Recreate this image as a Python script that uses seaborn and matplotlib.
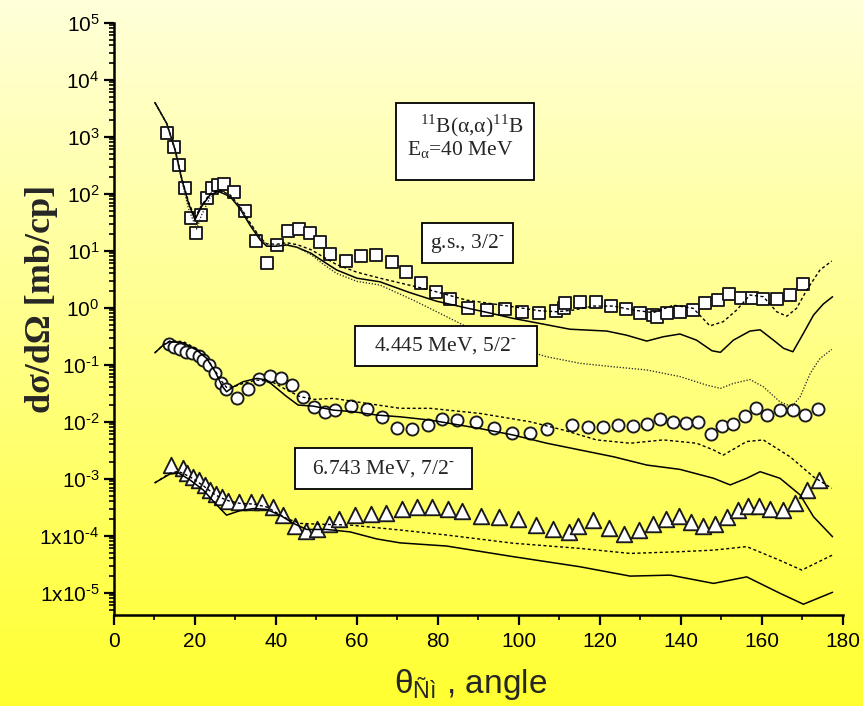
import numpy as np
import pandas as pd
import matplotlib
matplotlib.use("Agg")
import matplotlib.pyplot as plt
import seaborn as sns
from matplotlib.ticker import FixedLocator, FuncFormatter, MultipleLocator, NullFormatter
from matplotlib.patches import Rectangle

sns.set_theme(style="ticks")
plt.rcParams['font.family'] = ['Liberation Sans', 'DejaVu Sans']
plt.rcParams['mathtext.fontset'] = 'custom'
plt.rcParams['mathtext.rm'] = 'Liberation Sans'
plt.rcParams['mathtext.it'] = 'Liberation Sans:italic'
plt.rcParams['mathtext.bf'] = 'Liberation Sans:bold'

# ---------------- measured cross sections ----------------
gs_angle = [13.1, 14.9, 16.1, 17.6, 18.9, 20.3, 21.6, 23.0, 24.3, 25.6, 27.1, 29.7,
            32.4, 35.1, 37.7, 40.3, 43.1, 45.6, 48.3, 50.8, 53.4, 57.3, 61.0, 64.7,
            68.6, 72.1, 75.9, 79.5, 83.0, 87.5, 92.1, 96.6, 100.9, 105.1, 109.2,
            111.2, 111.3, 115.1, 119.0, 122.7, 126.4, 129.9, 133.2, 134.1, 136.5,
            139.8, 142.9, 146.1, 149.1, 152.0, 154.8, 157.7, 160.4, 163.7, 167.0, 170.3]
gs_xs = [1160, 670, 315, 127, 37, 20.5, 43, 83, 126, 142, 146, 106,
         50, 14.8, 6.0, 12.7, 21.9, 24.3, 20.2, 14.0, 8.9, 6.7, 8.1, 8.3,
         6.4, 4.2, 2.75, 1.91, 1.40, 0.975, 0.91, 0.94, 0.83, 0.80, 0.875,
         0.975, 1.19, 1.27, 1.27, 1.07, 0.94, 0.82, 0.745, 0.68, 0.80,
         0.85, 0.91, 1.19, 1.36, 1.74, 1.46, 1.51, 1.41, 1.41, 1.66, 2.6]

ex1_angle = [13.7, 14.8, 16.3, 17.8, 19.3, 20.9, 22.1, 23.5, 25.0, 26.4, 27.7, 30.3,
             33.2, 35.9, 38.5, 41.3, 43.9, 46.6, 49.4, 52.0, 54.6, 58.5, 62.4, 66.3,
             69.8, 73.7, 77.5, 81.0, 84.7, 89.4, 93.9, 98.4, 102.8, 107.0, 113.1,
             117.0, 120.9, 124.6, 128.1, 131.6, 134.9, 138.2, 141.3, 144.3, 147.4,
             150.1, 153.0, 155.9, 158.6, 161.2, 164.5, 167.7, 170.7, 173.8]
ex1_xs = [0.228, 0.207, 0.188, 0.169, 0.158, 0.142, 0.121, 0.099, 0.072, 0.048, 0.037, 0.0257,
          0.037, 0.056, 0.063, 0.058, 0.044, 0.0275, 0.0179, 0.015, 0.016, 0.0188, 0.017, 0.0123,
          0.00786, 0.00736, 0.00875, 0.011, 0.0107, 0.010, 0.00785, 0.0064, 0.00626, 0.00736, 0.00875,
          0.0080, 0.0080, 0.00875, 0.0084, 0.0090, 0.011, 0.010, 0.0096, 0.0098, 0.0061,
          0.0084, 0.0090, 0.0126, 0.0172, 0.0131, 0.016, 0.016, 0.0131, 0.0165]

ex2_angle = [14.0, 17.0, 18.1, 19.6, 21.0, 22.5, 23.7, 25.1, 26.6, 28.2, 30.9, 33.8,
             36.5, 39.2, 41.8, 44.6, 47.4, 50.2, 53.0, 55.7, 59.5, 63.4, 67.2, 71.1,
             74.9, 78.6, 82.5, 86.0, 90.7, 95.2, 99.7, 104.2, 108.5, 112.5, 114.7,
             118.4, 122.3, 126.1, 129.7, 133.1, 136.3, 139.6, 142.5, 145.6, 148.5,
             151.5, 154.2, 156.7, 159.4, 162.0, 165.2, 168.2, 171.3, 174.2]
ex2_xs = [0.00174, 0.00156, 0.00124, 0.00108, 0.00095, 0.00078, 0.00063, 0.00055, 0.00048,
          0.00041, 0.00039, 0.00039, 0.00039, 0.00032, 0.000231, 0.000148, 0.000122, 0.000130,
          0.000164, 0.000194, 0.000231, 0.00024, 0.000247, 0.00029, 0.000315, 0.00032, 0.0003,
          0.00027, 0.000222, 0.000215, 0.000196, 0.000154, 0.00013, 0.000117, 0.000148,
          0.000188, 0.000138, 0.000106, 0.000126, 0.00016, 0.000194, 0.000222, 0.000172,
          0.000148, 0.00016, 0.000215, 0.00028, 0.00033, 0.00033, 0.0003, 0.00028, 0.00038,
          0.00063, 0.00095]

# ---------------- calculated curves ----------------
gs_solid_angle = [10.1, 13.0, 15.1, 16.7, 18.4, 20.0, 21.6, 23.7, 25.8, 28.7, 31.1, 33.6,
                  36.1, 37.7, 40.2, 42.7, 45.2, 48.7, 51.7, 55.0, 60.0, 65.7, 73.0, 79.7,
                  87.5, 92.1, 98.6, 105.2, 112.6, 121.7, 126.6, 131.6, 135.7, 139.8, 143.9,
                  147.7, 149.8, 153.0, 157.1, 159.6, 162.9, 165.4, 167.7, 170.3, 172.8,
                  175.2, 177.5]
gs_solid = [3980, 1720, 590, 186, 68, 35, 59, 95, 110, 89, 55, 28,
            15.5, 12.0, 12.0, 12.6, 11.5, 9.0, 6.5, 4.6, 3.3, 2.85, 1.85, 1.30,
            0.975, 0.83, 0.65, 0.53, 0.42, 0.39, 0.33, 0.26, 0.31, 0.346, 0.27,
            0.176, 0.165, 0.27, 0.39, 0.41, 0.27, 0.194, 0.169, 0.356, 0.745,
            1.16, 1.56]

gs_dash_angle = [10.1, 13.0, 15.1, 16.7, 18.4, 20.0, 21.6, 23.7, 25.8, 28.7, 31.1, 33.6,
                 36.1, 37.7, 40.2, 42.7, 45.2, 48.7, 51.7, 55.0, 60.0, 65.7, 78.1, 87.1,
                 98.6, 105.2, 109.4, 113.5, 118.4, 123.4, 128.3, 133.2, 138.2, 143.1,
                 147.2, 150.5, 153.8, 157.1, 160.4, 163.7, 166.2, 168.6, 171.1, 174.4, 177.3]
gs_dash = [3980, 1720, 590, 190, 72, 38, 62, 100, 118, 95, 60, 31,
           17, 13.2, 13, 13.8, 12.8, 10.4, 7.8, 5.7, 4.2, 3.3, 2.04, 1.36,
           1.04, 0.885, 0.85, 0.91, 1.07, 1.07, 0.91, 0.82, 1.11, 0.975,
           0.48, 0.57, 0.91, 1.67, 1.56, 0.85, 0.71, 0.975, 2.04, 4.6, 6.6]

gs_dot_angle = [10.1, 13.0, 15.1, 16.7, 18.4, 20.4, 21.6, 23.7, 25.8, 28.7, 31.1, 33.6,
                36.1, 37.7, 40.2, 42.7, 45.2, 48.7, 51.7, 55.0, 60.0, 65.7, 73.9, 82.2,
                90.4, 98.6, 106.9, 115.1, 123.4, 131.6, 139.8, 146.4, 149.8, 153.0,
                157.1, 160.4, 164.5, 167.4, 169.5, 172.0, 174.4, 177.3]
gs_dot = [3980, 1700, 560, 170, 55, 24, 42, 85, 108, 92, 58, 30,
          16.5, 12.8, 12.5, 13, 11.5, 8.5, 5.8, 4.0, 2.9, 2.5, 1.36, 0.695,
          0.355, 0.207, 0.138, 0.106, 0.092, 0.081, 0.062, 0.044, 0.0385, 0.047,
          0.055, 0.041, 0.0224, 0.0183, 0.0275, 0.071, 0.129, 0.186]

ex1_solid_angle = [10.1, 12.2, 13.8, 17.1, 20.4, 22.9, 25.0, 26.7, 27.8, 29.5, 31.9, 35.3,
                   37.7, 40.2, 42.7, 45.5, 49.2, 54.2, 59.1, 64.9, 70.7, 78.1, 90.4, 98.6,
                   106.9, 115.1, 123.4, 131.6, 139.8, 148.1, 152.2, 156.3, 159.6, 164.5,
                   169.5, 172.8, 177.5]
ex1_solid = [0.162, 0.222, 0.254, 0.243, 0.181, 0.129, 0.0753, 0.0423, 0.0336, 0.0411, 0.0504,
             0.0577, 0.054, 0.0385, 0.0275, 0.0196, 0.0188, 0.016, 0.015, 0.0131, 0.0122,
             0.0107, 0.0076, 0.00585, 0.0042, 0.0032, 0.00243, 0.00174, 0.00146, 0.00102,
             0.00078, 0.00102, 0.00133, 0.00102, 0.00052, 0.000215, 0.000096]

ex1_dot_angle = [10.1, 12.2, 13.8, 17.1, 20.4, 22.9, 25.0, 26.7, 27.8, 29.5, 31.9, 35.3,
                 39.0, 42.7, 46.0, 49.5, 54.2, 62.4, 70.7, 78.1, 90.4, 102.8, 111.0, 119.2,
                 127.5, 135.7, 143.9, 148.1, 150.5, 156.3, 160.4, 167.0, 172.8, 177.3]
ex1_dot = [0.162, 0.225, 0.262, 0.255, 0.19, 0.13, 0.078, 0.05, 0.04, 0.041, 0.047, 0.054,
           0.0503, 0.036, 0.0275, 0.0247, 0.0257, 0.021, 0.0172, 0.0172, 0.014, 0.010,
           0.00715, 0.0048, 0.0042, 0.0048, 0.0042, 0.0032, 0.0026, 0.0045, 0.0048,
           0.00243, 0.00108, 0.00068]

ex2_solid_angle = [10.1, 13.8, 15.9, 18.8, 22.1, 25.0, 27.8, 31.1, 34.4, 37.7, 41.0, 44.3,
                   47.6, 52.5, 58.3, 64.9, 70.7, 82.2, 98.6, 115.1, 127.5, 137.4, 148.1,
                   156.3, 164.5, 170.3, 177.5]
ex2_solid = [0.00085, 0.00121, 0.00127, 0.00095, 0.00063, 0.00037, 0.00023, 0.000275, 0.0003,
             0.00029, 0.00023, 0.000165, 0.000129, 0.000129, 0.000117, 0.000088, 0.000075,
             0.000066, 0.000043, 0.0000286, 0.0000196, 0.0000204, 0.0000146, 0.000019,
             0.0000098, 0.0000063, 0.0000102]

ex2_dot_angle = [10.1, 13.8, 15.9, 18.8, 22.1, 25.0, 27.8, 31.1, 34.4, 37.7, 42.7, 46.0,
                 50.0, 58.3, 70.7, 82.2, 98.6, 115.1, 127.5, 139.8, 148.1, 156.3, 164.5,
                 169.9, 177.5]
ex2_dot = [0.00085, 0.00125, 0.00135, 0.00108, 0.00075, 0.00052, 0.00042, 0.00037, 0.00036,
           0.00032, 0.0002, 0.000165, 0.00016, 0.000154, 0.000126, 0.000103, 0.000074,
           0.00006, 0.000049, 0.0000525, 0.000056, 0.0000645, 0.000037, 0.000025, 0.000046]

# decades that carry a tick label
y_decades = list(range(-5, 6))

HY = "\u2010"  # short hyphen used as the superscript sign
state_labels = ["g.s., 3/2$^{\\mathregular{" + HY + "}}$",
                "4.445 MeV, 5/2$^{\\mathregular{" + HY + "}}$",
                "6.743 MeV, 7/2$^{\\mathregular{" + HY + "}}$"]
reaction_label = "$^{\\mathregular{11}}$B(\u03b1,\u03b1)$^{\\mathregular{11}}$B"
energy_label = "E$_{\\mathregular{\u03b1}}$=40 MeV"

# ---------------- figure ----------------
W, H = 863, 706
fig = plt.figure(figsize=(W / 100, H / 100), dpi=100)

# pale-to-yellow vertical background painted straight onto the canvas
t = np.linspace(0, 1, H)[:, None, None]
top = np.array([255, 255, 218]) / 255
bot = np.array([255, 255, 48]) / 255
grad = top * (1 - t) + bot * t
grad = np.broadcast_to(grad, (H, W, 3)).copy()
fig.figimage(grad, 0, 0, zorder=-10, origin='upper')

x0, x1 = 114, 842.7
y_top, y_bot = 22.7, 615
ax = fig.add_axes([x0 / W, 1 - y_bot / H, (x1 - x0) / W, (y_bot - y_top) / H])
ax.set_facecolor('none')
ax.set_yscale('log')

# experimental points (drawn below the curves)
mk = dict(color='white', edgecolor='#1a1a1a', linewidth=1.35, zorder=3, legend=False, ax=ax)
sns.scatterplot(x=gs_angle, y=gs_xs, marker='s', s=66, **mk)
sns.scatterplot(x=ex1_angle, y=ex1_xs, marker='o', s=76, **mk)
sns.scatterplot(x=ex2_angle, y=ex2_xs, marker='^', s=125, **mk)

solid = dict(color='black', linewidth=1.1, zorder=4, ax=ax)
dash = dict(color='black', linewidth=1.0, linestyle=(0, (2.2, 1.8)), zorder=4, ax=ax)
fine = dict(color='#2a2a2a', linewidth=0.95, linestyle=(0, (1, 1.3)), zorder=4, ax=ax)

sns.lineplot(x=gs_solid_angle, y=gs_solid, **solid)
sns.lineplot(x=gs_dash_angle, y=gs_dash, **dash)
sns.lineplot(x=gs_dot_angle, y=gs_dot, **fine)
sns.lineplot(x=ex1_solid_angle, y=ex1_solid, **solid)
sns.lineplot(x=ex1_dot_angle, y=ex1_dot, **dash)
sns.lineplot(x=ex2_solid_angle, y=ex2_solid, **solid)
sns.lineplot(x=ex2_dot_angle, y=ex2_dot, **dash)

# axes
ax.set_xlim(0, 180)
ax.set_ylim(10 ** -5.39, 1e5)
ax.xaxis.set_major_locator(MultipleLocator(20))
ax.xaxis.set_minor_locator(MultipleLocator(10))
major_y = [10.0 ** e for e in y_decades]
minor_y = [m * 10.0 ** e for e in range(-6, 5) for m in range(2, 10)
           if 10 ** -5.39 <= m * 10.0 ** e <= 1e5]
ax.yaxis.set_major_locator(FixedLocator(major_y))
ax.yaxis.set_minor_locator(FixedLocator(minor_y))
ax.yaxis.set_minor_formatter(NullFormatter())


def ytick_fmt(v, pos):
    e = int(round(np.log10(v)))
    sign = HY if e < 0 else ""
    if e <= -4:
        return "1x10$^{\\mathregular{%s%d}}$" % (sign, abs(e))
    return "10$^{\\mathregular{%s%d}}$" % (sign, abs(e))


ax.yaxis.set_major_formatter(FuncFormatter(ytick_fmt))
for s in ['top', 'right']:
    ax.spines[s].set_visible(False)
for s in ['left', 'bottom']:
    ax.spines[s].set_linewidth(1.8)
    ax.spines[s].set_color('black')
ax.tick_params(which='major', direction='out', length=7.5, width=1.6, labelsize=15,
               colors='black', pad=3)
ax.tick_params(which='minor', direction='out', length=3.8, width=1.2, colors='black')
ax.tick_params(axis='x', which='major', pad=5)
ax.set_xlabel("")
ax.set_ylabel("")

fig.text(42 / W, 1 - 299 / H, "d\u03c3/d\u03a9 [mb/cp]", rotation=90, ha='center', va='center',
         family='Liberation Serif', weight='bold', fontsize=26)
fig.text(471 / W, 1 - 684 / H, "\u03b8$_{\\mathregular{\u00d1\u00ec}}$ , angle", ha='center', va='center',
         fontsize=24)

# annotation boxes (axes fraction)
def box(xa, xb, ya, yb):
    ax.add_patch(Rectangle((xa, ya), xb - xa, yb - ya, transform=ax.transAxes,
                           facecolor='white', edgecolor='black', linewidth=1.3, zorder=6))


box(0.387, 0.5764, 0.7344, 0.8649)
ax.text(0.4913, 0.8266, reaction_label, transform=ax.transAxes, ha='center', va='center',
        family='Liberation Serif', fontsize=15.5, zorder=7)
ax.text(0.4757, 0.7846, energy_label, transform=ax.transAxes, ha='center', va='center',
        family='Liberation Serif', fontsize=15.5, zorder=7)

for (xa, xb, ya, yb), lab in zip([(0.4223, 0.5471, 0.5938, 0.6613),
                                  (0.3307, 0.5801, 0.4209, 0.4884),
                                  (0.2484, 0.4909, 0.2127, 0.2814)], state_labels):
    box(xa, xb, ya, yb)
    ax.text((xa + xb) / 2, (ya + yb) / 2, lab, transform=ax.transAxes, ha='center',
            va='center', family='Liberation Serif', fontsize=15.5, zorder=7)

fig.savefig("out.png", dpi=100)
